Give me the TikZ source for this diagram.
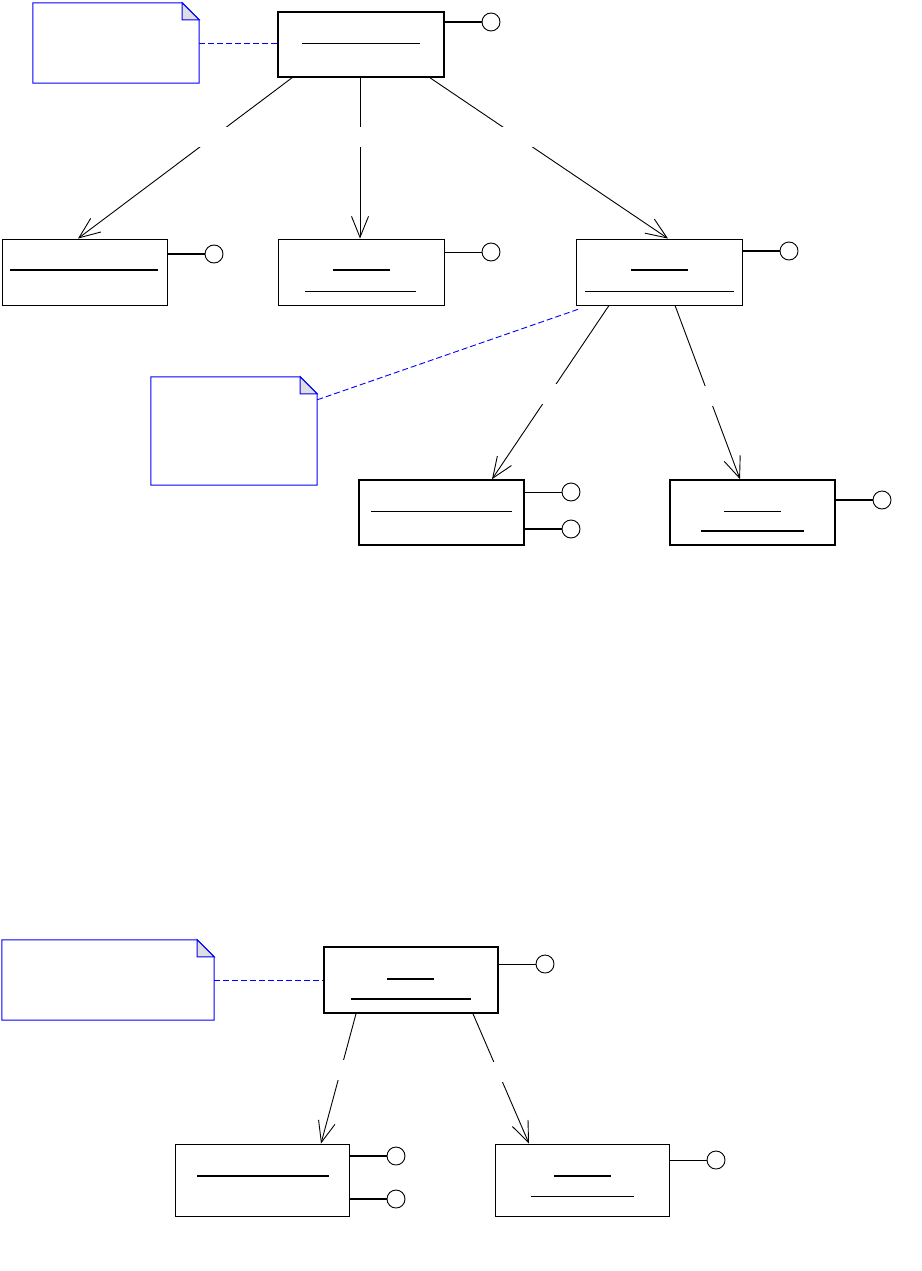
\documentclass[tikz,border=0pt]{standalone}
\usetikzlibrary{arrows.meta}

\begin{document}
\begin{tikzpicture}[x=1pt, y=-1pt,
  obj/.style={rectangle, draw, line width=0.9pt, inner sep=0pt},
  bold/.style={line width=1.6pt},
  slim/.style={line width=0.9pt},
  note/.style={rectangle, inner sep=0pt},
  lolly/.style={circle, draw, line width=0.9pt, minimum size=18pt, inner sep=0pt},
  arr/.style={-{Straight Barb[length=21pt, width=17pt]}, line width=0.9pt},
  gap/.style={rectangle, fill=white, minimum width=40pt, minimum height=20pt, inner sep=0pt},
  link/.style={blue, line width=0.9pt, dash pattern=on 6pt off 3pt}]
\useasboundingbox (0,0) rectangle (921,1271);

% objects
\node[obj, bold, minimum width=166pt, minimum height=65pt] (root) at (361,44.5) {};
\node[obj, minimum width=165pt, minimum height=66pt] (b1) at (84.5,272) {};
\node[obj, minimum width=166pt, minimum height=66pt] (b2) at (361,272) {};
\node[obj, minimum width=166pt, minimum height=66pt] (b3) at (659,272) {};
\node[obj, bold, minimum width=165pt, minimum height=65pt] (c1) at (441.5,512.5) {};
\node[obj, bold, minimum width=165pt, minimum height=65pt] (c2) at (752.5,512.5) {};
\node[obj, bold, minimum width=174pt, minimum height=66pt] (d) at (411,980) {};
\node[obj, minimum width=174pt, minimum height=72pt] (e1) at (262,1180) {};
\node[obj, minimum width=174pt, minimum height=72pt] (e2) at (582,1180) {};

% notes
\node[note, minimum width=166pt, minimum height=80pt] (n1) at (116,43) {};
\node[note, minimum width=166pt, minimum height=108pt] (n2) at (234,431) {};
\node[note, minimum width=212pt, minimum height=80pt] (n3) at (108,980) {};
\foreach \n in {n1, n2, n3} {
  \draw[blue, line width=1pt] (\n.north west) -- ([xshift=-17pt]\n.north east)
    -- ([yshift=-17pt]\n.north east) -- (\n.south east) -- (\n.south west) -- cycle;
  \draw[blue, line width=1pt, fill=gray!25] ([xshift=-17pt]\n.north east)
    -- ([xshift=-17pt, yshift=-17pt]\n.north east) -- ([yshift=-17pt]\n.north east) -- cycle;
}

% underlined names
\draw[slim] (302,43) -- (420,43);
\draw[bold] (10,270) -- (158,270);
\draw[bold] (333,270) -- (390,270);
\draw[slim] (305,291) -- (416,291);
\draw[bold] (631,270) -- (688,270);
\draw[slim] (585,291) -- (734,291);
\draw[slim] (371,511) -- (512,511);
\draw[slim] (724,511) -- (781,511);
\draw[bold] (701,531) -- (804,531);
\draw[bold] (387,979) -- (434,979);
\draw[bold] (351,999) -- (471,999);
\draw[bold] (197,1176) -- (329,1176);
\draw[bold] (554,1176) -- (611,1176);
\draw[slim] (531,1196) -- (634,1196);

% interfaces
\node[lolly] (rootL) at (491,22) {};
\node[lolly] (b1L) at (214,254) {};
\node[lolly] (b2L) at (491,252) {};
\node[lolly] (b3L) at (789,251) {};
\node[lolly] (c1La) at (571,492) {};
\node[lolly] (c1Lb) at (571,529) {};
\node[lolly] (c2L) at (882,500) {};
\node[lolly] (dL) at (545,964) {};
\node[lolly] (e1La) at (396,1156) {};
\node[lolly] (e1Lb) at (396,1199) {};
\node[lolly] (e2L) at (716,1160) {};
\draw[bold] (root.east |- rootL) -- (rootL);
\draw[bold] (b1.east |- b1L) -- (b1L);
\draw[slim] (b2.east |- b2L) -- (b2L);
\draw[bold] (b3.east |- b3L) -- (b3L);
\draw[slim] (c1.east |- c1La) -- (c1La);
\draw[bold] (c1.east |- c1Lb) -- (c1Lb);
\draw[bold] (c2.east |- c2L) -- (c2L);
\draw[slim] (d.east |- dL) -- (dL);
\draw[bold] (e1.east |- e1La) -- (e1La);
\draw[bold] (e1.east |- e1Lb) -- (e1Lb);
\draw[slim] (e2.east |- e2L) -- (e2L);

% links
\draw[arr] ([xshift=-69pt]root.south) -- node[gap, pos=0.37] (g1) {} ([xshift=-6.5pt]b1.north);
\draw[arr] ([xshift=-1pt]root.south) -- node[gap, pos=0.37] (g2) {} ([xshift=-1pt]b2.north);
\draw[arr] ([xshift=69pt]root.south) -- node[gap, pos=0.37] (g3) {} ([xshift=9pt]b3.north);
\draw[arr] ([xshift=-50pt]b3.south) -- node[gap, pos=0.51] (g4) {} ([xshift=50.5pt]c1.north);
\draw[arr] ([xshift=16pt]b3.south) -- node[gap, pos=0.52] (g5) {} ([xshift=-12.5pt]c2.north);
\draw[arr] ([xshift=-55pt]d.south) -- node[gap, pos=0.43] (g6) {} ([xshift=59pt]e1.north);
\draw[arr] ([xshift=62pt]d.south) -- node[gap, pos=0.45] (g7) {} ([xshift=-53pt]e2.north);

% note anchors
\draw[link] (n1.east) -- (n1.east -| root.west);
\draw[link] ([yshift=-23pt]n2.north east) -- ([xshift=5pt, yshift=-3pt]b3.south west);
\draw[link] (n3.east) -- (d.west);
\end{tikzpicture}
\end{document}
